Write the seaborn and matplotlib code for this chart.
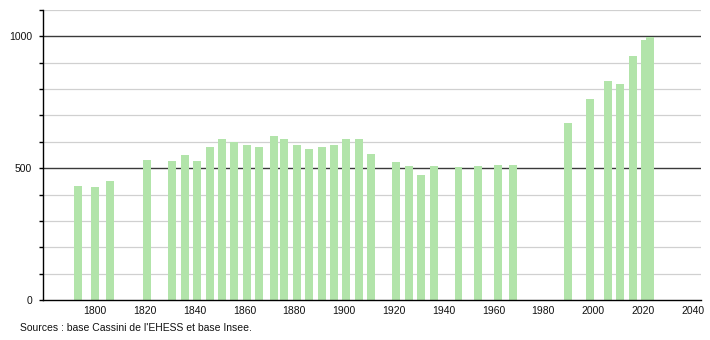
import matplotlib
matplotlib.use("Agg")
import matplotlib.pyplot as plt
import seaborn as sns
import pandas as pd
from matplotlib.ticker import MultipleLocator, FixedLocator

years = [1793, 1800, 1806, 1821, 1831, 1836, 1841, 1846, 1851, 1856, 1861, 1866,
         1872, 1876, 1881, 1886, 1891, 1896, 1901, 1906, 1911, 1921, 1926, 1931,
         1936, 1946, 1954, 1962, 1968, 1990, 1999, 2006, 2011, 2016, 2021, 2023]
population = [433, 428, 452, 532, 528, 550, 528, 579, 612, 600, 587, 579,
              621, 612, 589, 574, 582, 587, 611, 612, 555, 525, 510, 475,
              510, 504, 507, 511, 511, 672, 764, 830, 819, 924, 986, 999]
y_labels = [0, 500, 1000]
x_labels = list(range(1800, 2041, 20))
source_text = "Sources : base Cassini de l'EHESS et base Insee."

df = pd.DataFrame({"year": years, "pop": population})

sns.set_theme(style="white")
plt.rcParams["font.family"] = ["Liberation Sans", "DejaVu Sans"]

fig = plt.figure(figsize=(7.1, 3.4), dpi=100)
ax = fig.add_axes([43 / 710, 1 - 300 / 340, (701 - 43) / 710, (300 - 10) / 340])

sns.barplot(data=df, x="year", y="pop", native_scale=True, color="#b2e4aa",
            saturation=1, ax=ax, zorder=3, errorbar=None)
bar_w = 3.2
for p, yr in zip(ax.patches, years):
    p.set_width(bar_w)
    p.set_x(yr - bar_w / 2)
    p.set_edgecolor("none")

ax.set_xlim(1779.1, 2043.4)
ax.set_ylim(0, 1100)

# grid lines
for v in range(100, 1101, 100):
    if v in (500, 1000):
        ax.axhline(v, color="#3a3a3a", lw=1.0, zorder=2)
    else:
        ax.axhline(v, color="#d0d0d0", lw=0.9, zorder=1)

ax.yaxis.set_major_locator(FixedLocator(y_labels))
ax.yaxis.set_minor_locator(MultipleLocator(100))
ax.set_yticklabels([str(v) for v in y_labels])
ax.xaxis.set_major_locator(FixedLocator(x_labels))
ax.set_xticklabels([str(v) for v in x_labels])
ax.tick_params(axis="y", which="both", length=3, width=1, color="black",
               labelsize=7.5, pad=5, left=True, direction="out")
ax.tick_params(axis="x", length=0, labelsize=7.5, pad=4, colors="#111111")
ax.tick_params(axis="y", colors="black", labelcolor="#111111")
ax.set_xlabel("")
ax.set_ylabel("")

for s in ("top", "right"):
    ax.spines[s].set_visible(False)
for s in ("left", "bottom"):
    ax.spines[s].set_visible(True)
    ax.spines[s].set_color("black")
    ax.spines[s].set_linewidth(1.0)
    ax.spines[s].set_zorder(5)

fig.text(20 / 710, 1 - 328 / 340, source_text, fontsize=7.5, color="#111111",
         va="center", ha="left")

fig.savefig("out.png", dpi=100)
